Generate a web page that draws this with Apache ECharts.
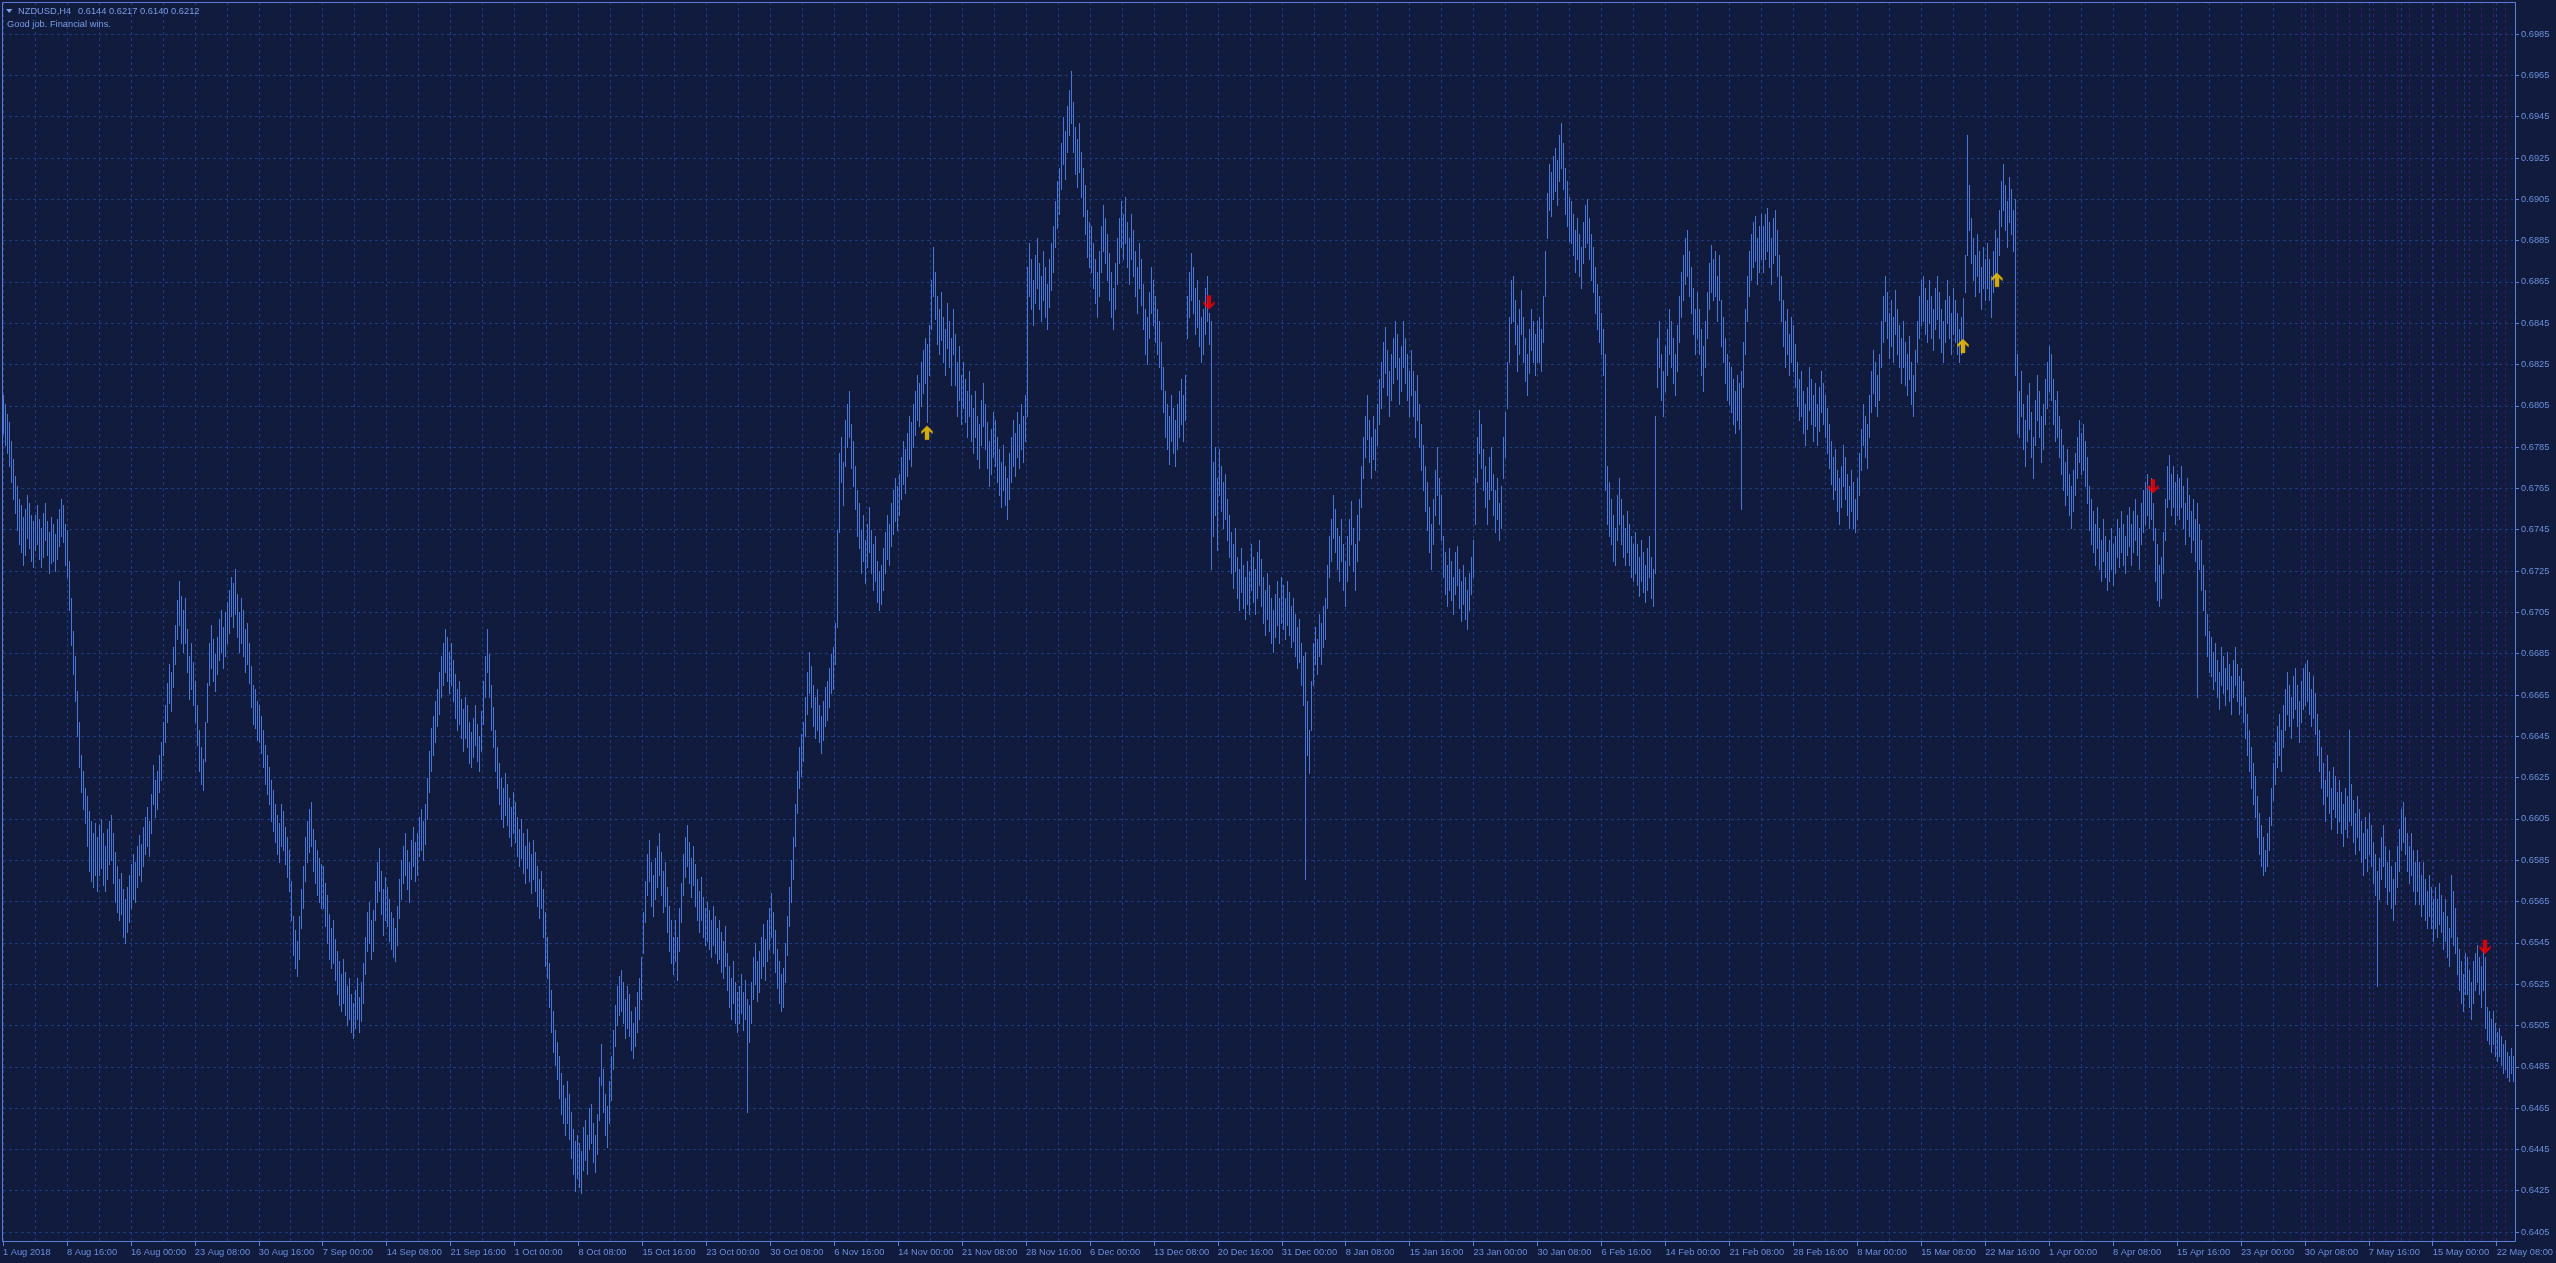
<!DOCTYPE html>
<html>
<head>
<meta charset="utf-8">
<script src="https://cdn.jsdelivr.net/npm/echarts@6/dist/echarts.min.js"></script>
<style>
html,body{margin:0;padding:0;background:#101b3d;overflow:hidden;}
#chart{width:2556px;height:1263px;}
</style>
</head>
<body>
<div id="chart"></div>
<script>
// ---- header texts ----
const symbolTitle = 'NZDUSD,H4';
const headerQuote = [0.6144, 0.6217, 0.6140, 0.6212];
const headerNote = 'Good job. Financial wins.';

// ---- x-axis tick labels (one every 32 H4 bars) ----
const tickLabels = ['1 Aug 2018','8 Aug 16:00','16 Aug 00:00','23 Aug 08:00','30 Aug 16:00','7 Sep 00:00','14 Sep 08:00','21 Sep 16:00','1 Oct 00:00','8 Oct 08:00','15 Oct 16:00','23 Oct 00:00','30 Oct 08:00','6 Nov 16:00','14 Nov 00:00','21 Nov 08:00','28 Nov 16:00','6 Dec 00:00','13 Dec 08:00','20 Dec 16:00','31 Dec 00:00','8 Jan 08:00','15 Jan 16:00','23 Jan 00:00','30 Jan 08:00','6 Feb 16:00','14 Feb 00:00','21 Feb 08:00','28 Feb 16:00','8 Mar 00:00','15 Mar 08:00','22 Mar 16:00','1 Apr 00:00','8 Apr 08:00','15 Apr 16:00','23 Apr 00:00','30 Apr 08:00','7 May 16:00','15 May 00:00','22 May 08:00'];

// ---- y-axis ticks ----
const yMin = 0.6405, yMax = 0.6985, yStep = 0.002;

// ---- bar highs / lows, in pips above 0.6000 ----
const hiPips = [
810,806,801,797,788,779,771,766,760,757,751,755,762,758,752,749,
752,757,750,746,753,758,749,744,751,748,743,750,755,760,757,748,
745,730,712,696,684,667,652,636,628,620,616,609,604,598,603,596,
602,605,598,592,600,604,607,598,589,582,576,579,571,566,572,578,
583,588,584,592,597,593,601,606,611,604,617,631,624,628,636,642,
652,660,671,680,676,688,699,711,720,713,706,712,697,684,690,681,
672,660,648,640,634,652,671,690,699,692,685,693,702,706,698,705,
710,716,722,719,726,714,705,712,706,697,700,690,679,670,668,662,
660,655,648,641,636,630,624,619,612,607,603,612,609,601,596,590,
575,558,551,546,558,571,582,596,604,610,613,600,595,590,586,583,
582,574,568,559,552,556,547,541,536,530,537,531,524,528,520,516,
522,528,519,526,535,548,560,565,556,561,575,584,591,580,571,577,
572,566,560,557,552,563,576,585,592,598,590,584,595,601,594,598,
606,610,604,612,625,638,649,655,662,668,676,684,690,697,693,686,
690,682,675,668,672,663,658,664,660,652,647,654,660,651,645,657,
672,684,697,685,670,659,648,640,632,625,620,627,622,615,611,618,
613,606,600,605,598,592,600,594,588,595,589,582,576,580,571,560,
548,535,522,512,503,497,490,482,476,470,478,472,463,455,449,452,
448,444,456,459,452,465,467,458,452,462,480,496,484,472,466,478,
490,503,515,524,529,532,526,518,524,520,512,506,514,521,528,538,
560,575,588,595,584,578,586,592,598,589,580,584,572,563,556,548,
556,548,562,574,588,596,602,594,586,592,583,576,570,577,567,562,
565,561,556,563,558,552,556,550,546,553,540,534,528,536,526,521,
524,530,521,527,518,515,526,538,545,536,541,548,554,547,556,562,
569,560,551,542,536,530,533,545,558,572,585,596,612,628,640,646,
652,664,676,686,679,670,664,668,660,655,662,669,672,678,685,688,
700,745,782,790,778,798,806,812,796,788,776,764,758,745,752,740,
748,756,745,738,742,730,725,728,736,744,752,748,758,764,770,766,
772,780,788,784,792,800,797,806,812,820,816,826,832,838,835,844,
866,882,870,858,852,860,848,842,855,846,838,852,840,826,834,820,
826,818,812,822,810,804,812,800,796,808,816,806,797,788,794,802,
798,790,784,778,786,776,770,782,790,798,792,802,796,806,800,810,
872,884,876,866,878,886,874,868,880,872,864,876,884,892,904,914,
920,932,945,938,950,958,967,952,940,934,942,928,920,912,900,894,
892,884,876,870,880,892,902,896,888,879,870,862,874,886,896,904,
898,906,894,886,898,890,880,872,884,876,864,852,848,860,872,866,
858,852,846,836,824,812,806,800,810,804,798,806,812,818,810,820,
858,870,879,872,862,866,856,848,852,862,868,850,846,778,785,770,
784,776,768,772,760,752,744,738,746,732,726,736,728,722,730,725,
738,732,726,734,740,731,722,716,724,718,712,706,714,720,712,722,
718,712,720,715,708,712,704,698,702,690,684,686,662,648,672,690,
698,692,704,700,708,712,728,742,750,762,755,746,742,750,738,730,
742,750,759,746,738,752,760,776,790,800,810,798,790,800,794,806,
818,826,836,843,832,822,830,838,846,840,828,834,846,838,830,822,
832,822,812,820,806,796,786,776,768,756,748,760,774,785,770,762,
742,734,728,736,730,722,734,737,726,720,728,722,716,724,732,740,
770,790,803,796,784,776,768,780,785,772,764,770,758,766,790,802,
826,848,866,868,856,844,852,861,848,838,830,842,852,846,840,846,
848,842,858,880,908,922,918,926,930,924,936,942,932,920,914,906,
904,898,890,896,888,882,894,902,905,896,888,882,872,864,858,850,
842,830,776,768,760,752,746,762,770,760,752,746,754,748,742,738,
744,738,732,740,734,728,736,742,732,726,800,838,846,830,822,834,
842,852,846,838,830,844,858,870,878,886,890,880,872,862,852,860,
852,842,834,846,860,874,883,876,880,868,878,856,848,838,830,826,
824,818,812,820,816,822,836,852,868,880,888,894,897,886,892,898,
892,898,901,894,886,896,900,890,878,868,856,846,852,840,848,844,
835,826,818,822,812,806,814,824,818,810,816,806,814,822,816,810,
804,796,788,780,784,774,770,776,786,780,772,766,774,768,760,770,
782,794,806,800,796,810,822,832,826,820,830,846,858,868,860,850,
856,848,861,852,844,838,846,836,830,839,826,820,832,846,858,866,
868,862,856,866,858,852,862,868,860,852,846,856,866,858,850,862,
856,850,842,848,857,878,936,912,896,886,878,888,880,872,882,876,
884,876,868,880,890,886,900,914,922,912,904,916,910,900,905,830,
812,822,806,798,810,816,802,790,808,820,812,800,806,818,826,834,
830,818,808,812,800,794,786,778,784,772,766,774,782,790,798,792,
796,788,780,766,760,754,748,756,746,740,750,742,734,740,746,738,
742,750,746,754,748,742,752,756,748,754,760,752,746,758,764,768,
772,766,770,758,746,738,728,732,744,760,776,781,772,776,768,772,
770,776,766,758,770,762,754,760,750,758,748,740,728,716,704,696,
693,686,690,682,676,688,684,678,686,680,674,682,688,680,674,678,
672,664,656,648,640,632,626,616,608,602,596,590,598,606,620,632,
642,650,656,648,660,668,676,670,664,674,678,670,662,672,678,680,
682,676,668,674,666,656,648,640,632,624,636,628,620,630,626,618,
624,618,612,620,616,648,622,614,608,616,610,604,598,606,600,608,
602,594,588,580,586,596,602,592,584,590,582,576,584,592,600,610,
613,606,598,592,598,590,584,590,584,578,584,576,570,578,572,566,
572,566,574,568,560,566,558,552,578,570,562,548,542,536,530,540,
538,532,526,536,540,544,538,534,542,538,514,512,508,512,506,502,
504,500,496,498,492,490,494,490
];
const loPips = [
792,786,782,776,768,760,753,745,738,734,728,733,741,736,730,727,
735,738,731,727,732,740,733,724,729,730,725,731,737,742,739,728,
722,706,689,675,662,645,630,618,610,603,592,580,575,572,578,570,
578,581,573,570,576,583,585,574,565,560,556,559,548,545,550,555,
562,566,565,572,578,575,582,588,592,587,598,612,606,610,618,624,
636,642,652,661,657,669,680,692,699,690,686,690,676,663,668,660,
652,641,628,622,619,633,652,670,678,672,667,675,682,686,678,684,
690,695,703,698,704,693,686,690,684,676,680,671,659,651,649,643,
642,637,630,622,617,612,604,599,594,588,584,592,590,583,577,570,
556,539,533,529,537,552,562,575,584,589,592,580,574,568,565,562,
562,553,545,537,533,535,527,520,515,512,516,510,505,508,502,499,
504,508,502,507,516,530,541,545,537,541,556,565,570,559,549,556,
553,546,542,538,536,544,557,566,574,578,571,565,576,582,575,578,
587,590,585,593,605,618,628,636,642,650,656,664,670,676,672,666,
670,662,654,648,651,644,638,644,640,632,630,635,641,633,628,638,
651,664,676,664,648,640,628,620,612,605,601,607,602,596,592,598,
594,587,582,586,579,574,581,575,569,576,570,563,557,562,548,534,
528,514,502,492,486,479,470,462,458,452,458,450,441,433,425,431,
427,424,435,440,433,445,448,439,434,443,459,476,463,452,446,458,
469,484,495,505,510,512,506,499,504,500,493,489,495,502,508,518,
540,555,568,575,563,558,566,572,578,568,560,563,550,541,535,530,
536,527,541,555,568,577,582,574,567,573,563,556,550,556,548,544,
546,542,538,544,540,535,537,531,528,534,522,514,508,516,506,502,
506,511,503,508,463,497,506,518,525,517,521,528,534,527,536,542,
548,540,531,523,516,512,514,526,539,553,565,576,592,608,620,626,
633,645,656,666,659,650,644,648,642,637,643,650,653,659,666,668,
680,698,744,768,757,776,785,790,775,766,755,742,736,724,730,719,
727,734,724,716,720,710,706,709,716,724,731,728,737,743,749,745,
752,760,767,763,771,779,776,785,791,798,795,805,811,816,797,820,
842,858,847,835,830,837,826,820,833,824,815,830,815,800,808,796,
804,797,790,800,788,782,790,779,775,786,795,784,775,766,772,780,
776,768,762,756,764,757,750,760,768,776,771,780,775,784,778,788,
800,858,852,844,855,862,852,846,856,848,842,853,861,870,882,891,
898,910,922,915,928,936,942,928,917,911,918,906,897,888,877,872,
870,862,855,848,858,870,880,874,866,856,848,842,852,864,874,882,
876,884,872,864,876,868,858,850,862,854,842,830,825,838,850,844,
836,830,824,813,802,790,784,777,788,782,776,784,790,796,788,798,
838,848,856,850,840,843,834,826,830,840,846,835,726,742,752,735,
762,754,746,750,740,732,724,717,725,712,706,715,707,702,709,704,
716,710,704,712,718,708,700,694,702,696,690,686,693,699,690,700,
697,692,699,694,688,691,684,678,681,670,660,576,636,627,648,670,
680,675,684,680,688,692,707,722,730,741,734,726,720,730,716,708,
720,728,738,725,716,730,740,756,770,780,789,778,770,779,774,786,
796,804,814,821,810,800,808,816,824,818,806,812,824,816,808,800,
810,800,790,798,785,774,764,754,745,734,726,738,752,762,748,740,
722,714,708,716,711,704,714,718,707,701,709,702,697,706,714,722,
748,768,782,775,764,756,748,760,764,752,744,750,740,746,770,780,
804,826,845,846,835,822,830,840,826,817,810,821,832,826,820,826,
826,822,836,858,886,900,897,905,909,902,914,920,910,898,892,885,
884,878,870,876,868,862,874,882,884,876,866,860,850,842,836,830,
820,764,748,742,738,730,728,740,748,738,732,728,734,728,722,720,
724,718,713,720,715,710,716,722,712,708,724,814,824,808,800,812,
820,830,824,816,810,822,836,848,856,864,868,858,850,840,830,838,
830,820,812,824,838,852,860,856,858,846,856,834,826,816,808,806,
802,796,792,798,794,755,814,830,846,858,866,872,875,864,870,876,
870,876,880,872,864,874,878,868,856,846,834,824,830,820,826,822,
814,805,798,800,792,786,794,803,796,788,795,786,793,802,796,790,
782,775,767,760,764,754,748,756,766,760,752,746,754,746,744,750,
762,774,786,780,775,790,802,811,805,800,808,824,836,846,838,828,
834,826,840,830,824,816,824,815,810,818,806,800,812,826,838,844,
846,840,836,845,838,832,842,847,838,831,826,836,845,838,830,840,
836,830,826,830,838,860,878,890,874,866,858,868,860,852,862,856,
862,856,848,860,868,870,878,892,900,890,882,894,888,880,820,792,
790,800,784,776,788,794,780,770,786,798,790,778,784,796,804,812,
808,796,788,790,780,772,764,757,762,752,746,754,762,770,778,772,
774,766,758,745,738,734,728,736,726,720,730,722,716,720,726,718,
724,732,727,734,728,724,733,737,728,734,740,733,726,738,744,748,
752,746,750,740,720,711,708,712,724,740,756,760,752,756,748,752,
750,756,746,738,750,742,734,740,730,664,726,716,706,694,684,676,
674,668,672,664,658,670,666,660,668,662,656,664,670,662,656,660,
652,644,636,628,620,612,606,596,588,582,578,580,582,590,602,614,
622,630,636,628,640,648,656,650,644,654,658,650,642,652,658,660,
662,656,650,654,646,636,628,620,612,604,616,608,600,610,606,598,
604,598,592,600,596,604,602,594,588,596,590,584,578,586,580,588,
582,574,568,524,566,576,582,572,564,570,562,556,564,572,580,590,
594,588,580,574,578,570,564,570,564,558,564,556,552,558,552,546,
552,548,554,550,542,546,538,534,548,544,540,530,522,516,512,520,
520,514,508,516,522,526,520,514,522,504,498,496,492,496,490,488,
490,486,482,484,480,478,482,478
];

// ---- signal arrows: [bar index, price] ----
const upArrows = [[462, 0.6792], [980, 0.6834], [997, 0.6866]];
const downArrows = [[603, 0.6855], [1075, 0.6766], [1241, 0.6543]];

// ---- daily period separators (bar index of 00:00) ----
const separatorBars = [1150,1156,1162,1168,1174,1180,1186,1192,1198,1204,1210,1216,1222,1228,1234,1240,1246,1252];

// ---------------------------------------------------------------
const N = Math.min(hiPips.length, loPips.length);
const cats = Array.from({length: N}, (_, i) => String(i));
const bars = [];
for (let i = 0; i < N; i++) bars.push([i, 0.6 + hiPips[i] / 10000, 0.6 + loPips[i] / 10000]);

const FONT = 'Liberation Sans';
const FS = 9.3;
const BG = '#101b3d';
const GRIDC = '#1d3a7c';
const FRAMEC = '#5b7fd6';
const LABELC = '#6d8fdc';
const HEADC = '#7d9de8';
const BARC = '#4a76d8';

const chart = echarts.init(document.getElementById('chart'), null, {renderer: 'canvas'});

const graphic = [
  {type: 'rect', z: 100, silent: true,
   shape: {x: 2.5, y: 2.5, width: 2513, height: 1239},
   style: {fill: null, stroke: FRAMEC, lineWidth: 1}},
  {type: 'polygon', z: 100, silent: true,
   shape: {points: [[6, 9], [12.5, 9], [9.25, 13]]},
   style: {fill: HEADC}},
  {type: 'text', z: 100, silent: true, x: 18, y: 11,
   style: {text: symbolTitle, fill: HEADC, fontFamily: FONT, fontSize: FS, verticalAlign: 'middle'}},
  {type: 'text', z: 100, silent: true, x: 78, y: 11,
   style: {text: headerQuote.map(v => v.toFixed(4)).join(' '), fill: HEADC, fontFamily: FONT, fontSize: FS, verticalAlign: 'middle'}},
  {type: 'text', z: 100, silent: true, x: 7, y: 24,
   style: {text: headerNote, fill: HEADC, fontFamily: FONT, fontSize: FS, verticalAlign: 'middle'}}
];
if (hiPips.length !== 1256 || loPips.length !== 1256) {
  graphic.push({type: 'text', z: 200, x: 600, y: 40,
    style: {text: 'LEN hi=' + hiPips.length + ' lo=' + loPips.length, fill: '#fff', fontSize: 30}});
}

const UP_PATH = 'path://M5.5 0 L11 5.5 L11 8 L7.5 5 L7.5 14 L3.5 14 L3.5 5 L0 8 L0 5.5 Z';
const DOWN_PATH = 'path://M5.5 14 L11 8.5 L11 6 L7.5 9 L7.5 0 L3.5 0 L3.5 9 L0 6 L0 8.5 Z';

const option = {
  backgroundColor: BG,
  animation: false,
  grid: [
    {left: 3, right: 43, top: 34, bottom: 31},
    {left: 3, right: 43, top: 2, bottom: 21}
  ],
  xAxis: [
    {gridIndex: 0, type: 'category', data: cats, boundaryGap: false, show: false},
    {gridIndex: 1, type: 'category', data: cats, boundaryGap: false,
     axisLine: {show: false},
     axisTick: {show: true, interval: 31, length: 4, lineStyle: {color: FRAMEC}},
     axisLabel: {interval: 31, align: 'left', margin: 6, color: LABELC, fontFamily: FONT, fontSize: FS,
       formatter: (v, idx) => (idx % 32 === 0 && tickLabels[idx / 32]) ? tickLabels[idx / 32] : ''},
     splitLine: {show: true, interval: 15, lineStyle: {color: GRIDC, type: [3, 3], width: 1}}}
  ],
  yAxis: [
    {gridIndex: 0, type: 'value', position: 'right', offset: 2,
     min: yMin, max: yMax, interval: yStep,
     axisLine: {show: false},
     axisTick: {show: true, length: 4, lineStyle: {color: FRAMEC}},
     axisLabel: {margin: 6, color: LABELC, fontFamily: FONT, fontSize: FS, formatter: v => v.toFixed(4)},
     splitLine: {show: true, lineStyle: {color: GRIDC, type: [3, 3], width: 1}}},
    {gridIndex: 1, type: 'value', min: 0, max: 1, show: false}
  ],
  series: [
    {type: 'custom', name: 'separators', xAxisIndex: 1, yAxisIndex: 1, silent: true, z: 1,
     data: separatorBars.map(b => [b]),
     renderItem: (params, api) => {
       const b = api.value(0);
       const p0 = api.coord([b, 0]);
       const p1 = api.coord([b, 1]);
       const x = Math.round(p0[0]) + 0.5;
       return {type: 'line', shape: {x1: x, y1: p1[1], x2: x, y2: p0[1]},
         style: {stroke: '#3e1a74', lineWidth: 1, lineDash: [3, 3]}};
     }},
    {type: 'custom', name: 'NZDUSD', xAxisIndex: 0, yAxisIndex: 0, silent: true, z: 3,
     data: bars, encode: {x: 0, y: [1, 2]},
     renderItem: (params, api) => {
       const i = api.value(0);
       const top = api.coord([i, api.value(1)]);
       const bot = api.coord([i, api.value(2)]);
       const x = Math.round(top[0]) + 0.5;
       return {type: 'line', shape: {x1: x, y1: Math.round(top[1]), x2: x, y2: Math.round(bot[1]) + 1},
         style: {stroke: BARC, lineWidth: 1}};
     }},
    {type: 'scatter', name: 'buy', xAxisIndex: 0, yAxisIndex: 0, z: 5, silent: true,
     data: upArrows, symbol: UP_PATH, symbolSize: [11, 14],
     itemStyle: {color: '#ffd200', borderColor: '#e0a000', borderWidth: 0.5}},
    {type: 'scatter', name: 'sell', xAxisIndex: 0, yAxisIndex: 0, z: 5, silent: true,
     data: downArrows, symbol: DOWN_PATH, symbolSize: [11, 14],
     itemStyle: {color: '#ff0000', borderColor: '#d00000', borderWidth: 0.5}}
  ],
  graphic: graphic
};
chart.setOption(option);
</script>
</body>
</html>
